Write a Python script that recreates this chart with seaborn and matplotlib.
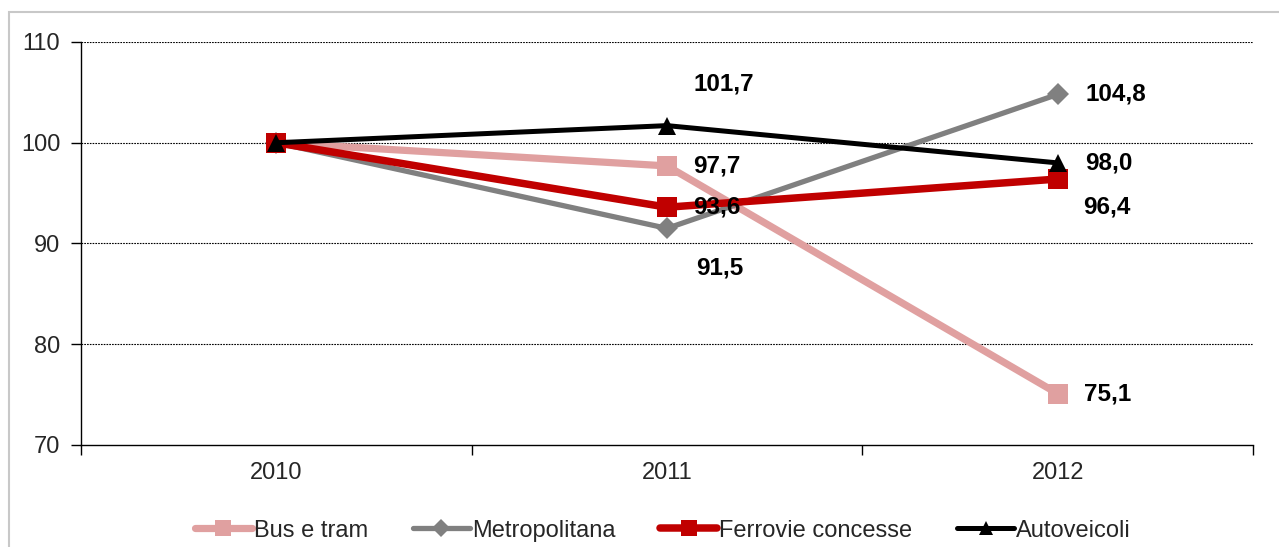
import matplotlib
matplotlib.use('Agg')
import matplotlib.pyplot as plt
import numpy as np
import pandas as pd
import seaborn as sns
from matplotlib.patches import Rectangle

# data
years = ['2010', '2011', '2012']
bus_tram = [100.0, 97.7, 75.1]
metropolitana = [100.0, 91.5, 104.8]
ferrovie = [100.0, 93.6, 96.4]
autoveicoli = [100.0, 101.7, 98.0]
series_names = ['Bus e tram', 'Metropolitana', 'Ferrovie concesse', 'Autoveicoli']
y_ticks = [70, 80, 90, 100, 110]

sns.set_theme(style='white')
plt.rcParams['font.family'] = ['Liberation Sans', 'DejaVu Sans']

fig = plt.figure(figsize=(12.79, 5.47), dpi=100)
ax = fig.add_axes([81 / 1279, 1 - 445 / 547, (1253 - 81) / 1279, (445 - 42) / 547])

# style per series: colour, line width, marker, marker size
styles = {
    'Bus e tram': ('#E0A0A0', 5.2, 's', 14),
    'Metropolitana': ('#808080', 3.8, 'D', 11),
    'Ferrovie concesse': ('#C00000', 5.4, 's', 14),
    'Autoveicoli': ('#000000', 3.6, '^', 13),
}
values = [bus_tram, metropolitana, ferrovie, autoveicoli]

# offsets (points) of data labels from their points, for 2011 and 2012
label_offsets = {
    'Bus e tram': [(19, 0), (19, 0)],
    'Metropolitana': [(21, -28.5), (20, 0)],
    'Ferrovie concesse': [(19, 0), (18, -20.5)],
    'Autoveicoli': [(19, 30), (20, 0)],
}

xpos = np.arange(len(years))
for name, vals in zip(series_names, values):
    c, lw, m, ms = styles[name]
    df = pd.DataFrame({'x': xpos, 'y': vals})
    sns.lineplot(data=df, x='x', y='y', ax=ax, color=c, linewidth=lw,
                 marker=m, markersize=ms, markeredgewidth=0, label=name,
                 legend=False)
    for i in (1, 2):
        ax.annotate(f"{vals[i]:.1f}".replace('.', ','), (xpos[i], vals[i]),
                    xytext=label_offsets[name][i - 1], textcoords='offset points',
                    ha='left', va='center', fontsize=17.5, fontweight='bold',
                    color='black', zorder=10)

ax.set_xlim(-0.5, 2.5)
ax.set_ylim(70, 110)
ax.set_yticks(y_ticks)
ax.set_xticks(xpos)
ax.set_xticklabels(years)
ax.set_xticks([-0.5, 0.5, 1.5, 2.5], minor=True)
ax.set_xlabel('')
ax.set_ylabel('')

ax.tick_params(axis='y', which='major', direction='out', length=7, width=1,
               color='black', labelsize=17, pad=8, left=True)
ax.tick_params(axis='x', which='major', length=0, labelsize=17, pad=12)
ax.tick_params(axis='x', which='minor', direction='out', length=7, width=1,
               color='black', bottom=True)

for s in ['top', 'right']:
    ax.spines[s].set_visible(False)
for s in ['left', 'bottom']:
    ax.spines[s].set_color('black')
    ax.spines[s].set_linewidth(1)

for yv in y_ticks[1:]:
    ax.axhline(yv, color='black', linestyle=(0, (1.5, 1)), linewidth=0.8, zorder=0)

handles = ax.get_lines()[:4]
fig.legend(handles, series_names, loc='center', bbox_to_anchor=(663 / 1279, 0.03),
           ncol=4, frameon=False, fontsize=17, handlelength=2.4,
           handletextpad=0.1, columnspacing=1.9, markerscale=0.8)

# outer chart border
fig.patches.append(Rectangle((9 / 1279, -0.05), 1.1, 1 - 12 / 547 + 0.05,
                             transform=fig.transFigure, fill=False,
                             edgecolor='#C8C8C8', linewidth=1.5))

fig.savefig('out.png', dpi=100)
